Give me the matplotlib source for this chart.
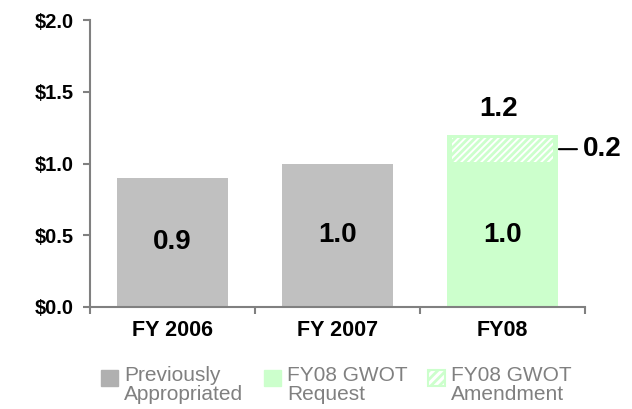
import matplotlib
matplotlib.use("Agg")
import matplotlib.pyplot as plt
from matplotlib.patches import Patch, Rectangle
from matplotlib.legend_handler import HandlerPatch

plt.rcParams['font.family'] = ['Liberation Sans', 'DejaVu Sans']
plt.rcParams['hatch.linewidth'] = 2.0

categories = ["FY 2006", "FY 2007", "FY08"]
previously = [0.9, 1.0, 0.0]
request = [0.0, 0.0, 1.0]
amendment = [0.0, 0.0, 0.2]
ytick_vals = [0.0, 0.5, 1.0, 1.5, 2.0]
ytick_labels = ["$0.0", "$0.5", "$1.0", "$1.5", "$2.0"]
legend_labels = ["Previously\nAppropriated", "FY08 GWOT\nRequest", "FY08 GWOT\nAmendment"]

GRAY = "#c0c0c0"
GREEN = "#ccffcc"
AXC = "#808080"


class TopSquare(HandlerPatch):
    def create_artists(self, legend, orig_handle, xdescent, ydescent, width, height,
                       fontsize, trans):
        s = width
        p = Rectangle((-xdescent, -ydescent + height - s), s, s)
        self.update_prop(p, orig_handle, legend)
        p.set_transform(trans)
        return [p]


fig = plt.figure(figsize=(6.32, 4.09), dpi=100)
ax = fig.add_axes([90/632, 102/409, 495/632, 287/409])

x = list(range(len(categories)))
w = 0.667
ax.bar(x, previously, width=w, color=GRAY, linewidth=0, zorder=2)
ax.bar(x, request, width=w, color=GREEN, linewidth=0, zorder=2)
ax.bar(x, amendment, width=w, bottom=request, color=GREEN, linewidth=0, zorder=2)
inner_b = [r + 0.01 if a > 0 else 0 for r, a in zip(request, amendment)]
inner_h = [a - 0.03 if a > 0 else 0 for a in amendment]
ax.bar(x, inner_h, width=w - 0.05, bottom=inner_b, facecolor="white",
       edgecolor=GREEN, hatch="/////", linewidth=0, zorder=3)

for i in x:
    if previously[i] > 0:
        ax.text(i, previously[i] / 2, f"{previously[i]:.1f}", ha="center", va="center",
                fontsize=20, fontweight="bold", zorder=4)
    if request[i] > 0:
        ax.text(i, request[i] / 2, f"{request[i]:.1f}", ha="center", va="center",
                fontsize=20, fontweight="bold", zorder=4)
    if amendment[i] > 0:
        total = request[i] + amendment[i]
        ax.annotate(f"{total:.1f}", xy=(i, total), xytext=(-3, 9), textcoords="offset points",
                    ha="center", va="bottom", fontsize=20, fontweight="bold")
        ax.annotate(f"{amendment[i]:.1f}", xy=(i + w / 2, request[i] + amendment[i] / 2),
                    xytext=(18, 0), textcoords="offset points", ha="left", va="center",
                    fontsize=20, fontweight="bold",
                    arrowprops=dict(arrowstyle="-", color="black", lw=1.5,
                                    shrinkA=2, shrinkB=1))

ax.set_xlim(-0.5, 2.5)
ax.set_ylim(0, 2.0)
ax.set_yticks(ytick_vals)
ax.set_yticklabels(ytick_labels, fontsize=14.5, fontweight="bold")
ax.set_xticks([-0.5, 0.5, 1.5, 2.5])
ax.set_xticklabels([])
ax.set_xticks(x, minor=True)
ax.set_xticklabels(categories, minor=True, fontsize=15.5, fontweight="bold")
ax.tick_params(axis="x", which="minor", length=0, pad=9)
ax.tick_params(axis="x", which="major", length=5, color=AXC, width=1.5, direction="out")
ax.tick_params(axis="y", length=5, color=AXC, width=1.5, pad=7)
for s in ["top", "right"]:
    ax.spines[s].set_visible(False)
for s in ["left", "bottom"]:
    ax.spines[s].set_color(AXC)
    ax.spines[s].set_linewidth(1.5)

handles = [Patch(facecolor="#b0b0b0", edgecolor="#b0b0b0"),
           Patch(facecolor=GREEN, edgecolor=GREEN),
           Patch(facecolor="white", edgecolor=GREEN, hatch="////", linewidth=1.5)]
leg = fig.legend(handles, legend_labels, loc="upper left", bbox_to_anchor=(0.160, 0.106),
                 ncol=3, frameon=False, fontsize=15, handlelength=0.8, handleheight=2.0,
                 handletextpad=0.3, columnspacing=1.0, borderpad=0, borderaxespad=0,
                 handler_map={Patch: TopSquare()})
for t in leg.get_texts():
    t.set_color(AXC)
    t.set_linespacing(1.05)

fig.savefig("out.png", dpi=100)
